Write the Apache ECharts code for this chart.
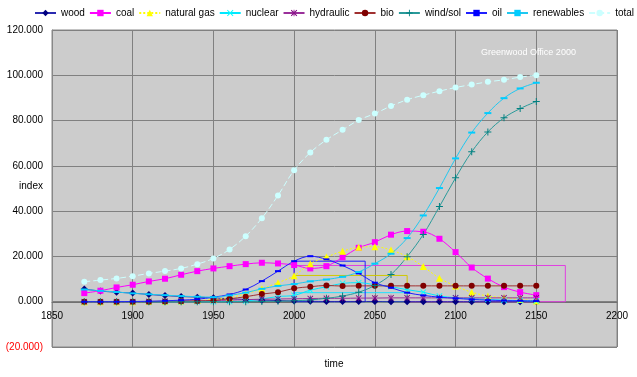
<!DOCTYPE html>
<html>
<head>
<meta charset="utf-8">
<script src="https://cdn.jsdelivr.net/npm/echarts@6/dist/echarts.min.js"></script>
<style>
html,body{margin:0;padding:0;background:#fff;}
#c{width:637px;height:377px;}
</style>
</head>
<body>
<div id="c"></div>
<script>
// ---- data ----
const years = [1870,1880,1890,1900,1910,1920,1930,1940,1950,1960,1970,1980,1990,2000,2010,2020,2030,2040,2050,2060,2070,2080,2090,2100,2110,2120,2130,2140,2150];
const wood       = [5600,4700,4200,3800,3200,2700,2300,2000,1700,1300,1000,700,500,300,200,100,100,100,100,0,0,0,0,0,0,0,0,0,0];
const coal       = [3800,4850,6300,7500,8960,10150,11900,13500,14700,15700,16600,17200,16900,16200,14700,15700,19600,23800,26300,29600,31200,30900,27800,21900,15100,10200,6450,4240,2900];
const naturalGas = [0,0,0,0,100,200,300,500,1000,1800,3500,5700,8400,11500,16800,19700,22300,24000,24300,22800,19900,15500,10400,6900,4200,2500,1800,1000,300];
const nuclear    = [0,0,0,0,0,0,0,0,0,50,300,1200,2300,2800,5100,6600,8100,8400,7500,6600,5300,4200,2500,1800,1300,1000,700,500,300];
const hydraulic  = [0,0,0,0,100,200,300,400,500,700,900,1100,1200,1300,1400,1500,1500,1600,1600,1700,1700,1700,1700,1700,1700,1700,1700,1700,1700];
const bio        = [0,0,0,0,0,100,200,300,600,1300,2200,3400,4200,5900,6600,7200,6900,7000,7000,7000,7000,7000,7000,7000,7000,7000,7000,7000,7000];
const windSol    = [0,0,0,0,0,0,0,0,0,0,0,100,200,400,800,1500,2500,4200,7200,12000,19900,29700,42000,54700,66200,75000,81200,85300,88400];
const oil        = [0,0,0,100,200,400,700,1100,2000,3200,5400,9100,13500,17900,20100,18700,16000,12500,8400,6200,4000,2800,2000,1500,1000,700,500,400,300];
const renewables = [5400,4800,4300,3700,3300,2900,2500,2200,2000,2800,4000,5700,7000,7800,9000,9800,11000,13100,16800,21200,28100,38100,50200,63300,74700,83300,89900,94200,96700];
const total      = [8830,9540,10290,11300,12490,13510,14700,16600,19120,23090,28960,36900,46930,58100,65900,71500,75900,80200,83100,86400,89200,91200,93000,94600,95900,97100,98000,99200,100000];
// outline boxes drawn on the original chart: [x1, y1, x2, y2]
const boxOil    = [2000, 0, 2044, 17900];
const boxGas    = [2000, 0, 2070, 11600];
const boxCoal   = [2000, 0, 2168, 16000];
const boxNuc    = [2000, 0, 2070, 4000];
const xTicks = {min:1850, max:2200, step:50};
const yTicks = {min:-20000, max:120000, step:20000};

// ---- symbols ----
const X_PATH = 'path://M0,1 L1,0 L5,4 L9,0 L10,1 L6,5 L10,9 L9,10 L5,6 L1,10 L0,9 L4,5 Z';
const STAR_PATH = 'path://M0,1 L1,0 L5,4 L9,0 L10,1 L6,5 L10,9 L9,10 L5,6 L1,10 L0,9 L4,5 Z M4.4,0 L4.4,10 L5.6,10 L5.6,0 Z';
const PLUS_PATH = 'path://M4.3,0 L5.7,0 L5.7,4.3 L10,4.3 L10,5.7 L5.7,5.7 L5.7,10 L4.3,10 L4.3,5.7 L0,5.7 L0,4.3 L4.3,4.3 Z';

function pts(arr){ return years.map((y,i)=>[y, arr[i]]); }
function mk(name, arr, lineColor, markColor, symbol, size, lineType){
  return {
    name, type:'line', data:pts(arr), smooth:0.35, z:3,
    symbol, symbolSize:size, showSymbol:true,
    lineStyle:{color:lineColor, width:1, type:lineType||'solid'},
    itemStyle:{color:markColor, borderWidth:0},
    emphasis:{disabled:true}, animation:false
  };
}
function box(b, color){
  return [{coord:[b[0],b[1]], itemStyle:{color:'rgba(0,0,0,0)', borderColor:color, borderWidth:1}}, {coord:[b[2],b[3]]}];
}
function fmt(v){
  const a = Math.abs(v);
  const s = (a/1000).toFixed(3);
  return v < 0 ? '(' + s + ')' : s;
}

const series = [
  {name:'boxes', type:'line', data:[], z:1, silent:true,
   markArea:{silent:true, label:{show:false},
     data:[box(boxCoal,'#e040e0'), box(boxGas,'#d0c800'), box(boxNuc,'#20e0ff'), box(boxOil,'#2020ff')]}},
  mk('wood', wood, '#2a2ab0', '#000080', 'diamond', 7),
  mk('coal', coal, '#ff00ff', '#ff00ff', 'rect', 6),
  mk('natural gas', naturalGas, '#ffff00', '#ffff00', 'triangle', 7, [2,2]),
  mk('nuclear', nuclear, '#00e8ff', '#00ffff', X_PATH, 6),
  mk('hydraulic', hydraulic, '#9a309a', '#800080', STAR_PATH, 6),
  mk('bio', bio, '#a03030', '#800000', 'circle', 6),
  mk('wind/sol', windSol, '#2a9a9a', '#008080', PLUS_PATH, 7),
  mk('oil', oil, '#2020ff', '#0000ff', 'rect', [6,2]),
  mk('renewables', renewables, '#20c8f0', '#00ccff', 'rect', [7,2]),
  mk('total', total, '#ccffff', '#ccffff', 'circle', 6, [6,3])
];

const chart = echarts.init(document.getElementById('c'), null, {renderer:'canvas'});
chart.setOption({
  animation:false,
  backgroundColor:'#ffffff',
  textStyle:{fontFamily:'Liberation Sans, Arial, sans-serif'},
  legend:{
    data:['wood','coal','natural gas','nuclear','hydraulic','bio','wind/sol','oil','renewables','total'],
    left:34, top:8, width:602, padding:0, itemWidth:21, itemHeight:8, itemGap:4,
    textStyle:{fontSize:10, color:'#000', fontFamily:'Liberation Sans, Arial, sans-serif'},
    selectedMode:false
  },
  grid:{left:52, right:20, top:30, bottom:30, show:true, backgroundColor:'#cccccc', borderColor:'#888888', borderWidth:1},
  xAxis:{
    type:'value', min:xTicks.min, max:xTicks.max, interval:xTicks.step,
    position:'bottom', offset:-45,
    axisLine:{show:true, onZero:false, lineStyle:{color:'#707070'}},
    axisTick:{show:false},
    axisLabel:{fontSize:10, color:'#000', margin:9, formatter:(v)=>String(v)},
    splitLine:{show:true, lineStyle:{color:'#808080', width:1}}
  },
  yAxis:{
    type:'value', min:yTicks.min, max:yTicks.max, interval:yTicks.step,
    axisLine:{show:true, lineStyle:{color:'#888888', width:1}},
    axisTick:{show:false},
    axisLabel:{fontSize:10, margin:9, formatter:fmt, color:(v)=> (v<0 ? '#ff0000' : '#000000')},
    splitLine:{show:true, lineStyle:{color:'#808080', width:1}}
  },
  graphic:[
    {type:'text', style:{x:31, y:186, text:'index', fill:'#000', font:'10px Liberation Sans, Arial, sans-serif', textAlign:'center', textVerticalAlign:'middle'}},
    {type:'text', style:{x:334, y:364, text:'time', fill:'#000', font:'10px Liberation Sans, Arial, sans-serif', textAlign:'center', textVerticalAlign:'middle'}},
    {type:'text', z:50, style:{x:481, y:53, text:'Greenwood Office 2000', fill:'#ffffff', font:'9px Liberation Sans, Arial, sans-serif', textAlign:'left', textVerticalAlign:'middle'}}
  ],
  series
});
</script>
</body>
</html>
